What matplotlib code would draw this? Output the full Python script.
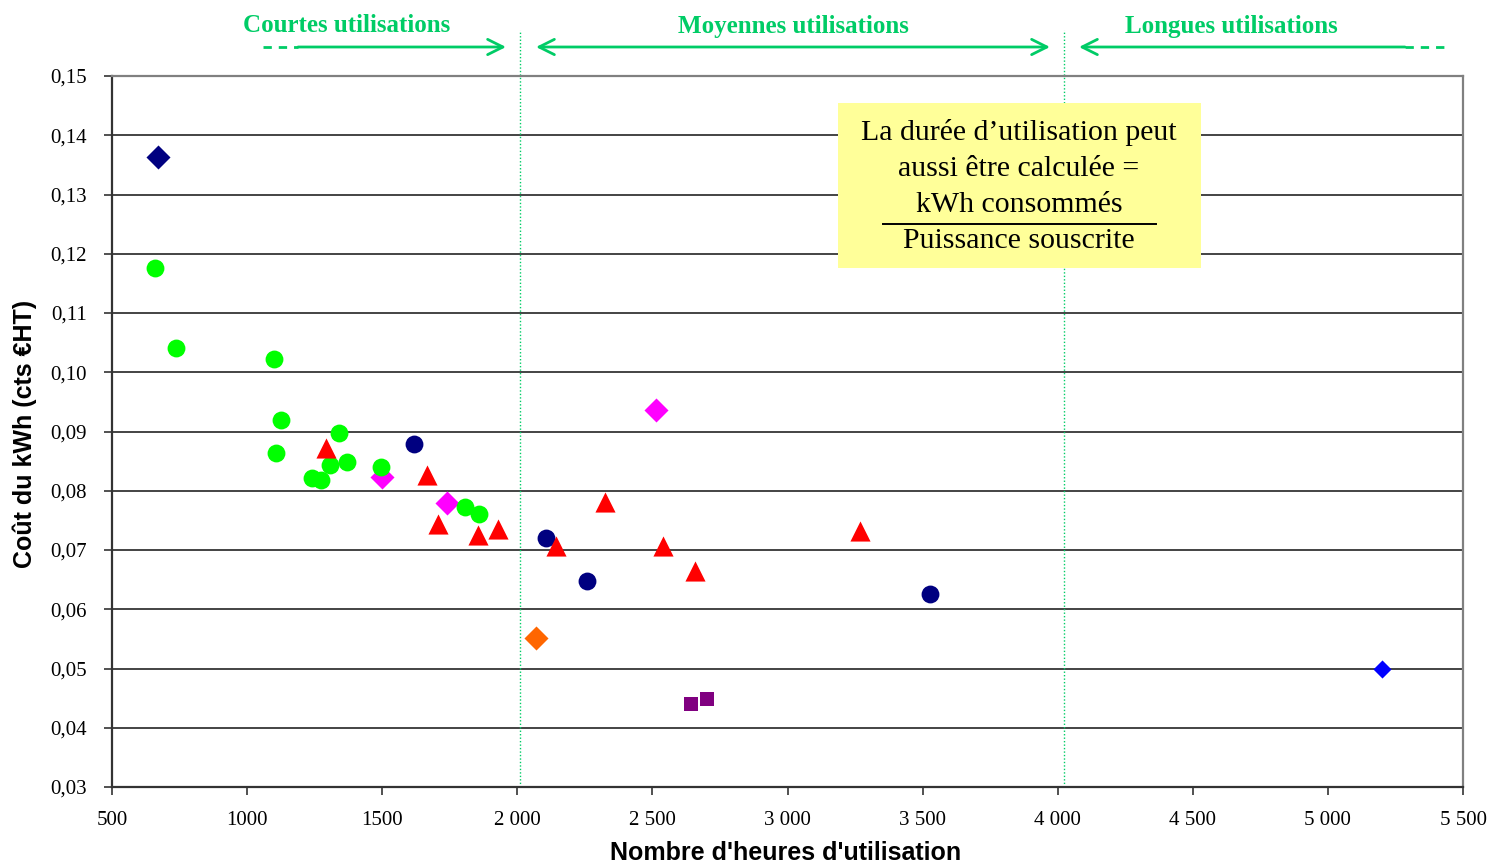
import matplotlib
matplotlib.use("Agg")
import matplotlib.pyplot as plt
from matplotlib.ticker import FixedLocator, FixedFormatter

# Heures d'utilisation / coût du kWh, par groupe de sites
green_hours = [659, 737, 1100, 1125, 1107, 1340, 1307, 1370, 1240, 1273, 1496, 1806, 1858]
green_cost = [0.1176, 0.1041, 0.1022, 0.0919, 0.0864, 0.0897, 0.0843, 0.0849, 0.0822, 0.0818, 0.0840, 0.0773, 0.0761]

red_hours = [1292, 1666, 1707, 1855, 1929, 2143, 2325, 2539, 2658, 3268]
red_cost = [0.0872, 0.0827, 0.0744, 0.0725, 0.0735, 0.0707, 0.0781, 0.0707, 0.0665, 0.0732]

navy_hours = [1618, 2106, 2258, 3527]
navy_cost = [0.0879, 0.0720, 0.0648, 0.0626]

navy_diam_hours = [670]
navy_diam_cost = [0.1363]

magenta_hours = [1499, 1740, 2513]
magenta_cost = [0.0823, 0.0779, 0.0936]

orange_hours = [2069]
orange_cost = [0.0551]

purple_hours = [2643, 2702]
purple_cost = [0.0440, 0.0449]

blue_hours = [5200]
blue_cost = [0.0500]

x_ticks = [500, 1000, 1500, 2000, 2500, 3000, 3500, 4000, 4500, 5000, 5500]
x_tick_labels = ["500", "1000", "1500", "2 000", "2 500", "3 000", "3 500",
                 "4 000", "4 500", "5 000", "5 500"]
y_ticks = [0.03, 0.04, 0.05, 0.06, 0.07, 0.08, 0.09, 0.10, 0.11, 0.12, 0.13, 0.14, 0.15]
y_tick_labels = ["0,03", "0,04", "0,05", "0,06", "0,07", "0,08", "0,09", "0,10",
                 "0,11", "0,12", "0,13", "0,14", "0,15"]

# Limites des zones d'utilisation
zone_limits = [2010, 4025]

GREEN = "#00CC66"
SERIF = "Liberation Serif"
SANS = "Liberation Sans"

fig = plt.figure(figsize=(14.89, 8.65), dpi=100)
ax = fig.add_axes([112 / 1489, 1 - 787 / 865, (1463 - 112) / 1489, (787 - 76) / 865])

ax.set_xlim(500, 5500)
ax.set_ylim(0.03, 0.15)

for y in y_ticks[1:-1]:
    ax.axhline(y, color="#111111", lw=1.1, zorder=1)

for xl in zone_limits:
    ax.plot([xl, xl], [0, 1.065], transform=ax.get_xaxis_transform(),
            color=GREEN, lw=1.0, ls=(0, (1, 1.5)), clip_on=False, zorder=1)

ax.scatter(green_hours, green_cost, s=165, marker="o", color="#00FF00", zorder=3, linewidths=0)
ax.scatter(red_hours, red_cost, s=210, marker="^", color="#FF0000", zorder=4, linewidths=0)
ax.scatter(navy_hours, navy_cost, s=165, marker="o", color="#000080", zorder=3, linewidths=0)
ax.scatter(navy_diam_hours, navy_diam_cost, s=150, marker="D", color="#000080", zorder=3, linewidths=0)
ax.scatter(magenta_hours, magenta_cost, s=150, marker="D", color="#FF00FF", zorder=2.5, linewidths=0)
ax.scatter(orange_hours, orange_cost, s=150, marker="D", color="#FF6600", zorder=3, linewidths=0)
ax.scatter(purple_hours, purple_cost, s=95, marker="s", color="#800080", zorder=3, linewidths=0)
ax.scatter(blue_hours, blue_cost, s=85, marker="D", color="#0000FF", zorder=3, linewidths=0)

ax.xaxis.set_major_locator(FixedLocator(x_ticks))
ax.xaxis.set_major_formatter(FixedFormatter(x_tick_labels))
ax.yaxis.set_major_locator(FixedLocator(y_ticks))
ax.yaxis.set_major_formatter(FixedFormatter(y_tick_labels))
ax.tick_params(axis="both", direction="out", length=6, width=1.2, color="#333333",
               labelsize=15)
ax.tick_params(axis="x", pad=11)
ax.tick_params(axis="y", pad=12)
for lab in ax.get_xticklabels() + ax.get_yticklabels():
    lab.set_fontfamily(SERIF)

for side in ("left", "bottom"):
    ax.spines[side].set_color("#333333")
    ax.spines[side].set_linewidth(1.6)
for side in ("right", "top"):
    ax.spines[side].set_color("#808080")
    ax.spines[side].set_linewidth(1.6)

fig.text(786 / 1489, 1 - 853 / 865, "Nombre d'heures d'utilisation", ha="center",
         va="center", fontfamily=SANS, fontweight="bold", fontsize=18)
fig.text(25 / 1489, 1 - 434 / 865, "Coût du kWh (cts €HT)", ha="center", va="center",
         rotation=90, fontfamily=SANS, fontweight="bold", fontsize=18)

# Encadré explicatif
bx0, by0, bx1, by1 = 838, 103, 1201, 268
fig.patches.append(plt.Rectangle((bx0 / 1489, 1 - by1 / 865), (bx1 - bx0) / 1489,
                                 (by1 - by0) / 865, transform=fig.transFigure,
                                 facecolor="#FFFF99", edgecolor="none", zorder=5))
box_lines = ["La durée d\u2019utilisation peut", "aussi être calculée =",
             "kWh consommés", "Puissance souscrite"]
for i, txt in enumerate(box_lines):
    fig.text(1019 / 1489, 1 - (133 + 36 * i) / 865, txt, ha="center", va="center",
             fontfamily=SERIF, fontsize=21.5, color="black", zorder=6)
fig.add_artist(plt.Line2D([883 / 1489, 1156 / 1489], [1 - 224 / 865, 1 - 224 / 865],
                          transform=fig.transFigure, color="black", lw=1.4, zorder=6))

# Zones d'utilisation
def fx(px):
    return px / 1489

def fy(py):
    return 1 - py / 865

zone_labels = [("Courtes utilisations", 347), ("Moyennes utilisations", 793),
               ("Longues utilisations", 1231)]
for txt, cx in zone_labels:
    fig.text(fx(cx), fy(26), txt, ha="center", va="center", fontfamily=SERIF,
             fontweight="bold", fontsize=18, color=GREEN)

arrow_y = fy(47)
arrow_kw = dict(arrowstyle="->,head_length=1.1,head_width=0.55", color=GREEN, lw=2.0,
                shrinkA=0, shrinkB=0)
fig.add_artist(plt.Line2D([fx(263), fx(298)], [arrow_y, arrow_y], color=GREEN, lw=2.0,
                          ls=(0, (3, 2.5))))
ax.annotate("", xy=(fx(506), arrow_y), xytext=(fx(298), arrow_y),
            xycoords="figure fraction", textcoords="figure fraction", arrowprops=arrow_kw,
            annotation_clip=False)
ax.annotate("", xy=(fx(1050), arrow_y), xytext=(fx(536), arrow_y),
            xycoords="figure fraction", textcoords="figure fraction",
            arrowprops=dict(arrow_kw, arrowstyle="<->,head_length=1.1,head_width=0.55"),
            annotation_clip=False)
ax.annotate("", xy=(fx(1079), arrow_y), xytext=(fx(1405), arrow_y),
            xycoords="figure fraction", textcoords="figure fraction", arrowprops=arrow_kw,
            annotation_clip=False)
fig.add_artist(plt.Line2D([fx(1405), fx(1445)], [arrow_y, arrow_y], color=GREEN, lw=2.0,
                          ls=(0, (3, 2.5))))

fig.savefig("out.png", dpi=100)
